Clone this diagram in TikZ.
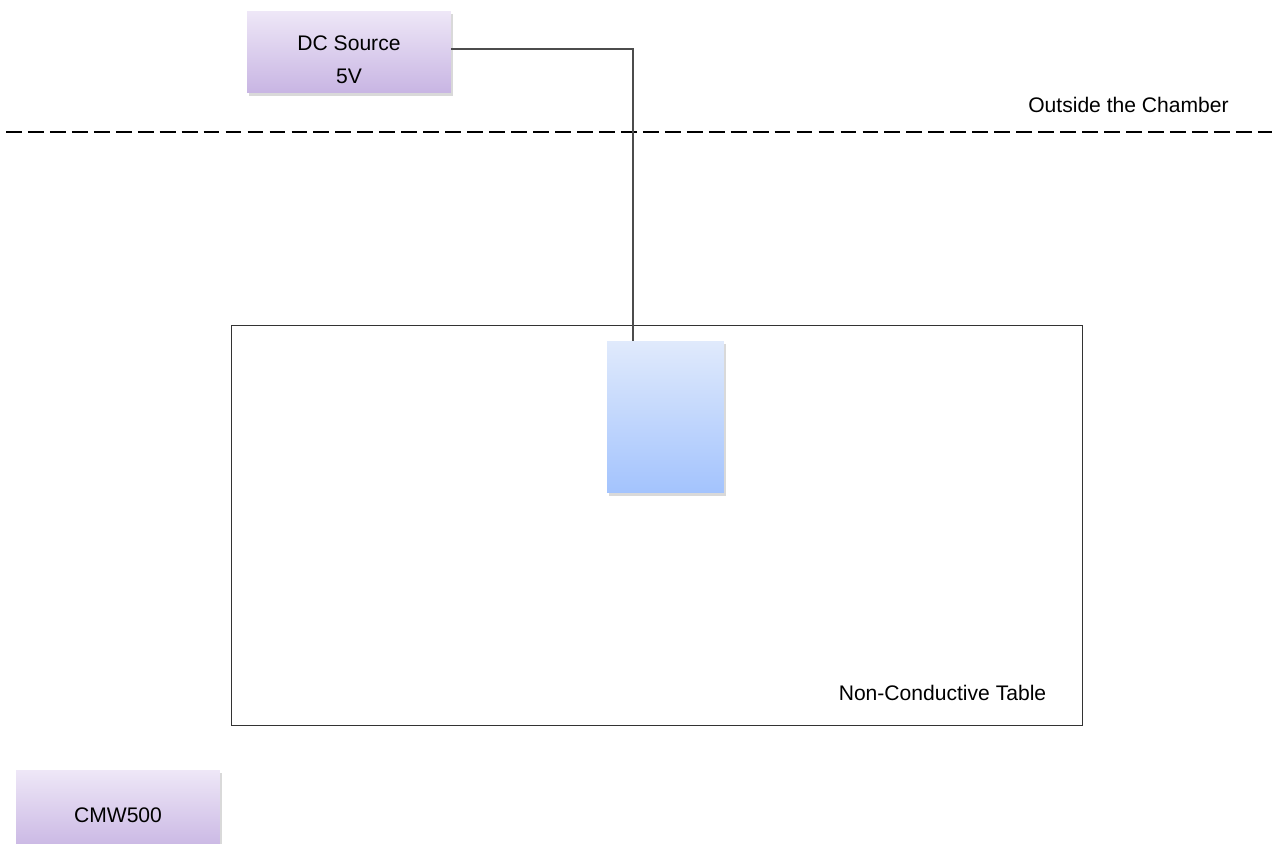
\documentclass[tikz,border=0pt]{standalone}
\usepackage{fontspec}
\setmainfont{Liberation Sans}
\usetikzlibrary{shadows}
\definecolor{lilactop}{HTML}{EEE7F7}
\definecolor{lilacbot}{HTML}{C8B5E3}
\definecolor{bluetop}{HTML}{E0EAFC}
\definecolor{bluebot}{HTML}{A3C3FD}
\tikzset{
  unitbox/.style={top color=lilactop, bottom color=lilacbot, minimum width=4.08cm, minimum height=1.64cm,
    drop shadow={opacity=0.3, shadow xshift=1pt, shadow yshift=-1.8pt}, inner sep=0pt},
  devbox/.style={top color=bluetop, bottom color=bluebot, minimum width=2.34cm, minimum height=3.04cm,
    drop shadow={opacity=0.3, shadow xshift=1pt, shadow yshift=-1.8pt}, inner sep=0pt},
  tablebox/.style={draw=black!80, line width=0.6pt, minimum width=17.04cm, minimum height=8cm, inner sep=0pt},
  wire/.style={draw=black!70, line width=0.6pt},
  boundary/.style={draw=black, line width=1.1pt, dash pattern=on 9pt off 3.5pt},
  caption/.style={font=\fontsize{12}{14}\selectfont, inner sep=0pt},
}
% text set lower than the box centre
\newcommand{\boxtext}[2]{\smash{\raisebox{#1}{\begin{tabular}[t]{@{}c@{}}#2\end{tabular}}}}

\begin{document}
\begin{tikzpicture}[x=0.02cm, y=-0.02cm, font=\fontsize{12}{14}\selectfont]
\useasboundingbox (0,0) rectangle (1272,843);
\draw[boundary] (6,132) -- (1272,132);
\node[caption] (outside) at (1128.5,105) {Outside the Chamber};
\node[tablebox] (table) at (657,525.5) {};
\node[caption] (tablelabel) at (942.5,693) {Non-Conductive Table};
\node[unitbox] (dc) at (349,52) {\boxtext{0.8pt}{DC Source\\[4.7pt]5V}};
\node[devbox] (dut) at (665.5,417) {};
\node[unitbox] (cmw) at (118,811) {\boxtext{-6.6pt}{CMW500}};
\coordinate (tap) at (633,341);
\draw[wire] (dc.east |- 0,49) -| (tap);
\end{tikzpicture}
\end{document}
